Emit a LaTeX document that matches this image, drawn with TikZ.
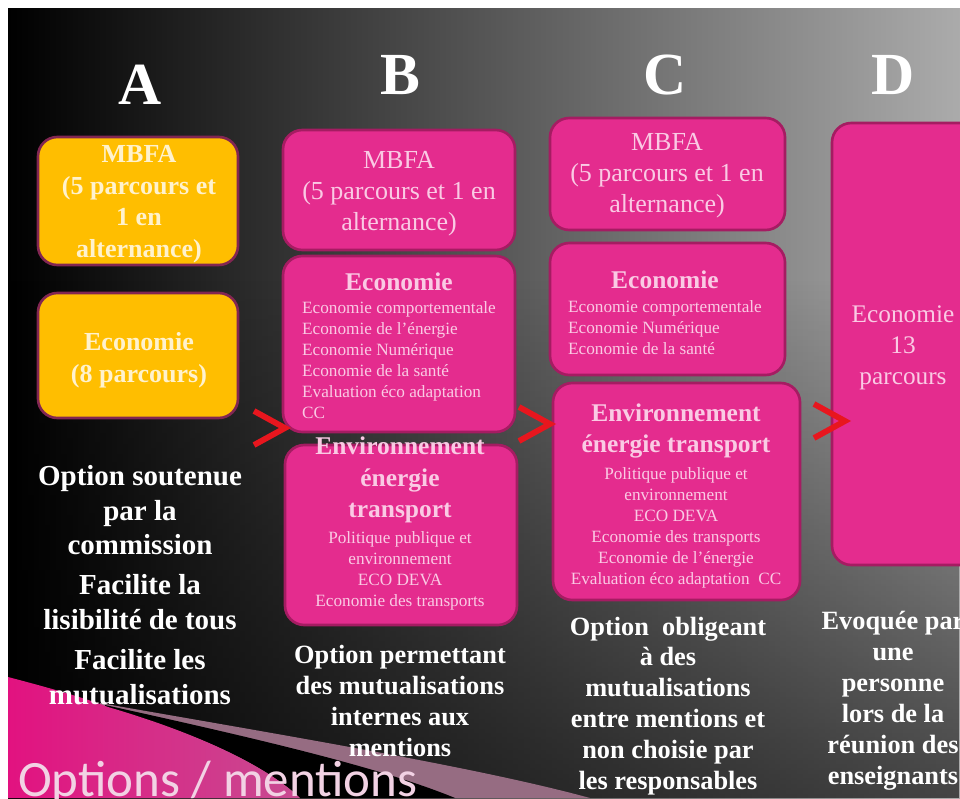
\documentclass[tikz,border=0pt]{standalone}
\usepackage{fontspec}
\setmainfont{Liberation Serif}
\newfontfamily\slidefont{Carlito}
\usetikzlibrary{positioning, fit, fadings}
\definecolor{pinkfill}{RGB}{228,44,142}
\definecolor{pinkedge}{RGB}{165,28,98}
\definecolor{pinktext}{RGB}{250,202,228}
\definecolor{orangefill}{RGB}{255,190,0}
\definecolor{orangeedge}{RGB}{130,38,82}
\definecolor{orangetext}{RGB}{255,242,205}
\definecolor{chevred}{RGB}{232,22,30}
\definecolor{swooshpink}{RGB}{226,18,128}
\definecolor{swooshpale}{RGB}{200,75,145}
\definecolor{mauve}{RGB}{150,108,130}
\definecolor{titlepink}{RGB}{242,210,228}
\tikzfading[name=fadedown, top color=transparent!100, bottom color=transparent!0]

\begin{document}
\begin{tikzpicture}[x=0.02cm, y=-0.02cm,
    pinkbox/.style={draw=pinkedge, line width=1.5pt, fill=pinkfill, rounded corners=11pt, inner sep=0},
    orangebox/.style={pinkbox, draw=orangeedge, fill=orangefill},
    letter/.style={text=white, font=\bfseries\fontsize{34}{38}\selectfont},
    boxtext/.style={text=pinktext, align=center, font=\fontsize{14.8}{17.6}\selectfont},
    orangetxt/.style={text=orangetext, align=center, font=\bfseries\fontsize{14.8}{18}\selectfont},
    boxhead/.style={text=pinktext, align=center, font=\bfseries\fontsize{14.5}{18}\selectfont},
    listtext/.style={text=pinktext, align=left, font=\fontsize{9.8}{12}\selectfont},
    caption/.style={text=white, align=center, font=\bfseries\fontsize{15}{17.6}\selectfont},
    chevron/.style={draw=chevred, line width=3.3pt}]
    \useasboundingbox (0,0) rectangle (960,798);
    \clip (0,0) rectangle (960,798);

    % Background
    \fill[white] (0,0) rectangle (960,798);
    \shade[left color=black, middle color=black!47, right color=black!33] (8,8) rectangle (960,798);
    \fill[black, path fading=fadedown, fill opacity=0.6] (8,280) rectangle (960,798);

    % Bottom swoosh
    \fill[mauve] (100,703) .. controls (300,738) and (480,768) .. (590,798) -- (100,798) -- cycle;
    \fill[black] (105,705) .. controls (250,737) and (380,767) .. (455,798) -- (300,798) .. controls (260,760) and (180,728) .. (105,707) -- cycle;
    \shade[left color=swooshpink, right color=swooshpale] (8,677) .. controls (50,688) and (85,698) .. (108,707) .. controls (180,728) and (260,760) .. (300,798) -- (8,798) -- cycle;
    \node[anchor=base west, text=titlepink, font=\slidefont\fontsize{29}{32}\selectfont] (slidetitle) at (12,796) {Options / mentions};

    % Column letters
    \node[letter] (colA) at (140,85) {A};
    \node[letter] (colB) at (400,75) {B};
    \node[letter] (colC) at (665,75) {C};
    \node[letter] (colD) at (893,75) {D};

    % Column A
    \node[orangebox, fit={(38,137) (238,265)}] (a1) {};
    \node[orangetxt] (a1text) at (139,204) {MBFA\\(5 parcours et\\1 en\\alternance)};
    \node[orangebox, fit={(38,293) (238,418)}] (a2) {};
    \node[orangetxt] (a2text) at (139,360) {Economie\\(8 parcours)};
    \node[caption, font=\bfseries\fontsize{16.5}{19.8}\selectfont] (capA) at (140,585) {Option soutenue\\par la\\commission\\[3pt]Facilite la\\lisibilité de tous\\[3pt]Facilite les\\mutualisations};

    % Column B
    \node[pinkbox, fit={(283,130) (515,250)}] (b1) {};
    \node[boxtext] (b1text) at (399,194) {MBFA\\(5 parcours et 1 en\\alternance)};
    \node[pinkbox, fit={(283,256) (515,432)}] (b2) {};
    \node[boxhead] (b2head) at (399,282) {Economie};
    \node[listtext] (b2list) at (399,360) {Economie comportementale\\Economie de l’énergie\\Economie Numérique\\Economie de la santé\\Evaluation éco adaptation\\CC};
    \node[pinkbox, fit={(285,445) (517,625)}] (b3) {};
    \node[boxhead] (b3head) at (400,480) {Environnement\\énergie\\transport};
    \node[listtext, align=center] (b3list) at (400,571) {Politique publique et\\environnement\\ECO DEVA\\Economie des transports};
    \node[caption] (capB) at (400,701) {Option permettant\\des mutualisations\\internes aux\\mentions};

    % Column C
    \node[pinkbox, fit={(550,118) (785,230)}] (c1) {};
    \node[boxtext] (c1text) at (667,176) {MBFA\\(5 parcours et 1 en\\alternance)};
    \node[pinkbox, fit={(550,243) (785,375)}] (c2) {};
    \node[boxhead] (c2head) at (665,280) {Economie};
    \node[listtext] (c2list) at (665,328) {Economie comportementale\\Economie Numérique\\Economie de la santé};
    \node[pinkbox, fit={(553,383) (800,600)}] (c3) {};
    \node[boxhead] (c3head) at (676,431) {Environnement\\énergie transport};
    \node[listtext, align=center] (c3list) at (676,528) {Politique publique et\\environnement\\ECO DEVA\\Economie des transports\\Economie de l’énergie\\Evaluation éco adaptation~~CC};
    \node[caption] (capC) at (668,706) {Option~~obligeant\\à des\\mutualisations\\entre mentions et\\non choisie par\\les responsables};

    % Column D
    \node[pinkbox, fit={(832,123) (1000,565)}] (d1) {};
    \node[boxtext, font=\fontsize{14.4}{17.6}\selectfont] (d1text) at (903,348) {Economie\\13\\parcours};
    \node[caption] (capD) at (893,701) {Evoquée par\\une\\personne\\lors de la\\réunion des\\enseignants};

    % Chevrons between columns
    \foreach \tx/\ty in {285/428, 550/424, 845/421}
        \draw[chevron] (\tx-31,\ty-17) -- (\tx,\ty) -- (\tx-31,\ty+17);
\end{tikzpicture}
\end{document}
